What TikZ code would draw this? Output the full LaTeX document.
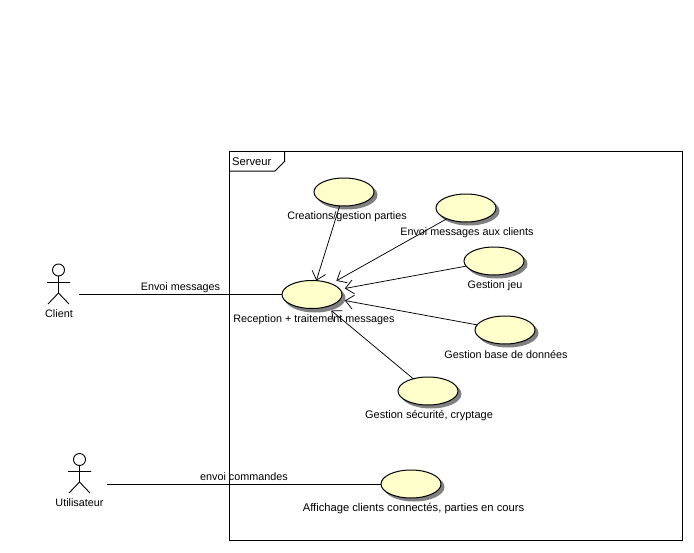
\documentclass[tikz,border=0pt]{standalone}
\usepackage{fontspec}
\setmainfont{Liberation Sans}
\usetikzlibrary{arrows.meta,shapes.geometric}
\tikzset{
  usecase/.style={ellipse,draw=black,line width=1pt,fill=ucfill,minimum width=60pt,minimum height=28pt,inner sep=0pt,outer sep=0pt},
  ushadow/.style={ellipse,fill=ucshadow,minimum width=61pt,minimum height=29pt,inner sep=0pt},
  lbl/.style={font=\fontsize{10.8pt}{12pt}\selectfont,inner sep=0pt,text=black},
  dep/.style={line width=0.75pt,-{Straight Barb[length=8pt,width=14pt,line width=0.75pt]}},
  assoc/.style={line width=1pt},
  frameline/.style={line width=1pt},
  actorline/.style={line width=0.9pt},
  actorbox/.style={minimum width=42pt,minimum height=42pt,inner sep=0pt,outer sep=0pt}
}
\definecolor{ucfill}{HTML}{FFFFCC}
\definecolor{ucshadow}{HTML}{808080}
\begin{document}
\begin{tikzpicture}[x=1pt,y=-1pt]
\useasboundingbox (0,0) rectangle (694,552);
% frame
\draw[frameline] (229.5,151.5) rectangle (682.5,540.5);
\draw[frameline] (229.5,171) -- (275,171) -- (284.5,161.5) -- (284.5,151.5);
\node[lbl,anchor=west,font=\fontsize{11.2pt}{12pt}\selectfont] (serveur) at (232,161.5) {Serveur};
% shadows
\foreach \c/\px/\py in {a/344/192,b/466/208,c/494/261,d/505/330,e/428/391,r/312/295,f/411/484}{
  \node[ushadow] (sh\c) at (\px+3,\py+3) {};
}
% use cases
\node[usecase] (crea) at (344,192) {};
\node[usecase] (envoi) at (466,208) {};
\node[usecase] (jeu) at (494,261) {};
\node[usecase] (base) at (505,330) {};
\node[usecase] (secu) at (428,391) {};
\node[usecase] (rec) at (312,294.5) {};
\node[usecase] (aff) at (411,484) {};
% labels
\node[lbl] (lcrea) at (347,217) {Creations/gestion parties};
\node[lbl] (lenvoi) at (467,233) {Envoi messages aux clients};
\node[lbl] (ljeu) at (495,286) {Gestion jeu};
\node[lbl] (lbase) at (506,355) {Gestion base de données};
\node[lbl,font=\fontsize{11pt}{12pt}\selectfont] (lsecu) at (429,416) {Gestion sécurité, cryptage};
\node[lbl] (lrec) at (314,320) {Reception + traitement messages};
\node[lbl,font=\fontsize{11.2pt}{12pt}\selectfont] (laff) at (413.5,509) {Affichage clients connectés, parties en cours};
% actors
\node[actorbox] (client) at (58,284) {};
\node[actorbox] (util) at (86,473) {};
\draw[actorline] (58.5,270) circle (6);
\draw[actorline] (58.5,276) -- (58.5,293) (47,282.5) -- (70,282.5) (48,304) -- (58.5,293) -- (69,304);
\draw[actorline] (79.5,459.5) circle (6);
\draw[actorline] (79.5,465.5) -- (79.5,482) (68,471.5) -- (91,471.5) (69,493) -- (79.5,482) -- (90,493);
\node[lbl] (lclient) at (59,314) {Client};
\node[lbl] (lutil) at (79.5,503) {Utilisateur};
% connectors
\draw[assoc] (client.east |- rec.west) -- (rec.west) node[lbl,pos=0.5,yshift=6.5pt] (a1) {Envoi messages};
\draw[assoc] (util.east |- aff.west) -- (aff.west) node[lbl,pos=0.5,yshift=7pt] (a2) {envoi commandes};
\draw[dep] (crea) -- (rec);
\draw[dep,shorten >=6pt] (envoi) -- (rec);
\draw[dep,shorten >=5pt] (jeu) -- (rec);
\draw[dep,shorten >=5pt] (base) -- (rec);
\draw[dep,shorten >=6pt] (secu) -- (rec);
\end{tikzpicture}
\end{document}
